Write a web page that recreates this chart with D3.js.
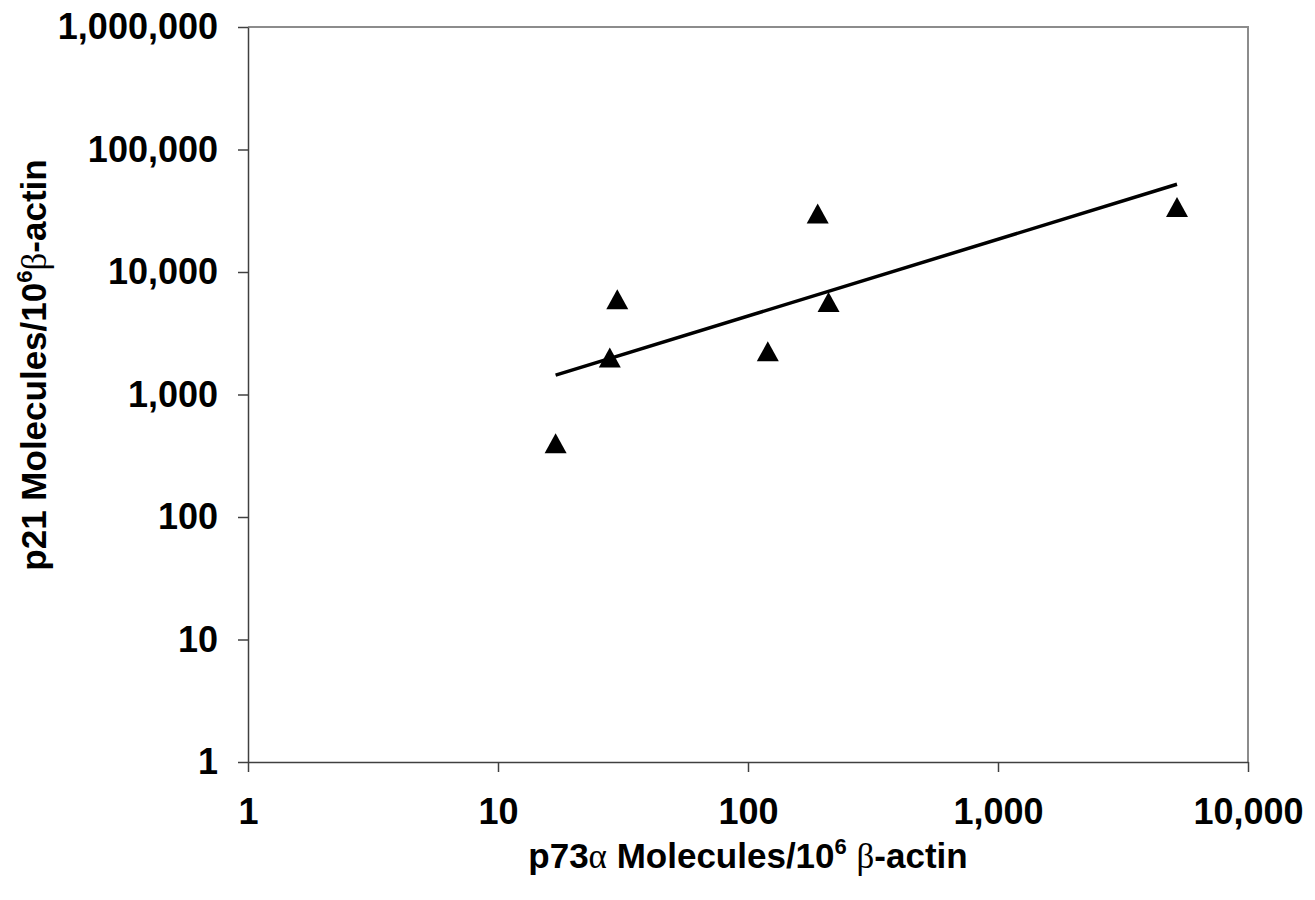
<!DOCTYPE html>
<html>
<head>
<meta charset="utf-8">
<script src="https://cdn.jsdelivr.net/npm/d3@7"></script>
<style>
  body { margin: 0; background: #fff; }
  text { font-family: "Liberation Sans", Arial, sans-serif; font-weight: bold; fill: #000; }
  .greek { font-family: "Liberation Serif", "Times New Roman", serif; font-weight: normal; }
</style>
</head>
<body>
<svg id="viz" width="1315" height="900"></svg>
<script>
// p73a vs p21 (molecules per 10^6 b-actin), log-log
var p73 = [17, 28, 30, 120, 190, 210, 5200];
var p21 = [400, 2000, 6000, 2250, 30000, 5700, 34000];
var trendX = [17, 5200];   // power trend line ends
var trendY = [1440, 52000];
var xTicks = [1, 10, 100, 1000, 10000];
var yTicks = [1, 10, 100, 1000, 10000, 100000, 1000000];

(function () {
    'use strict';
    var svg = d3.select("#viz");
    var plot = { left: 248, right: 1248, top: 27, bottom: 762 };

    var xScale = d3.scaleLog().domain([1, 10000]).range([plot.left, plot.right]);
    var yScale = d3.scaleLog().domain([1, 1000000]).range([plot.bottom, plot.top]);
    var fmt = d3.format(",");

    // top + right frame (grey)
    svg.append("path")
        .attr("d", "M" + plot.left + "," + plot.top + "H" + plot.right + "V" + plot.bottom)
        .attr("fill", "none")
        .attr("stroke", "#8c8c8c")
        .attr("stroke-width", 2);

    var yAxis = d3.axisLeft(yScale).tickValues(yTicks).tickFormat(fmt)
        .tickSize(10).tickSizeOuter(0).tickPadding(20);
    var xAxis = d3.axisBottom(xScale).tickValues(xTicks).tickFormat(fmt)
        .tickSize(10).tickSizeOuter(0).tickPadding(26);

    var gy = svg.append("g").attr("transform", "translate(" + plot.left + ",0)").call(yAxis);
    var gx = svg.append("g").attr("transform", "translate(0," + plot.bottom + ")").call(xAxis);

    [gx, gy].forEach(function (g) {
        g.selectAll("path, line").attr("stroke", "#404040").attr("stroke-width", 1.5);
        g.selectAll("text")
            .attr("fill", "#000")
            .style("font-family", "'Liberation Sans', Arial, sans-serif")
            .style("font-weight", "bold")
            .style("font-size", "36px");
    });

    // trend line
    svg.append("path")
        .datum(d3.zip(trendX, trendY))
        .attr("d", d3.line().x(function (d) { return xScale(d[0]); }).y(function (d) { return yScale(d[1]); }))
        .attr("stroke", "#000")
        .attr("stroke-width", 3.5)
        .attr("fill", "none");

    // triangle markers
    svg.selectAll(".pt")
        .data(d3.zip(p73, p21))
        .enter()
        .append("path")
        .attr("class", "pt")
        .attr("d", "M0,-10L11,10L-11,10Z")
        .attr("fill", "#000")
        .attr("transform", function (d) { return "translate(" + xScale(d[0]) + "," + yScale(d[1]) + ")"; });

    // axis titles
    var xt = svg.append("text")
        .attr("x", (plot.left + plot.right) / 2)
        .attr("y", 868)
        .attr("text-anchor", "middle")
        .style("font-size", "35px");
    xt.append("tspan").text("p73");
    xt.append("tspan").attr("class", "greek").text("\u03b1");
    xt.append("tspan").text(" Molecules/10");
    xt.append("tspan").attr("dy", -14).style("font-size", "22px").text("6");
    xt.append("tspan").attr("dy", 14).text(" ");
    xt.append("tspan").attr("class", "greek").text("\u03b2");
    xt.append("tspan").text("-actin");

    var yt = svg.append("text")
        .attr("transform", "translate(46,365) rotate(-90)")
        .attr("text-anchor", "middle")
        .style("font-size", "35px");
    yt.append("tspan").text("p21 Molecules/10");
    yt.append("tspan").attr("dy", -14).style("font-size", "22px").text("6");
    yt.append("tspan").attr("dy", 14).attr("class", "greek").text("\u03b2");
    yt.append("tspan").text("-actin");
}());
</script>
</body>
</html>
